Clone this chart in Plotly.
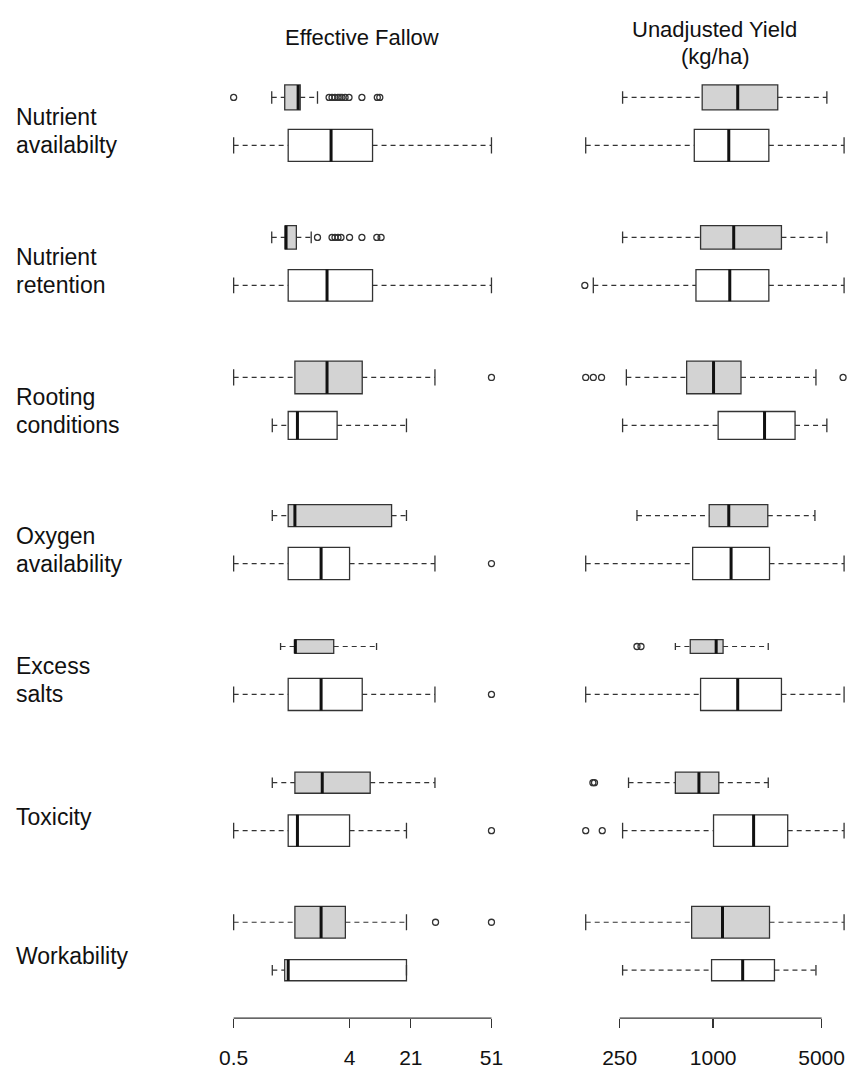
import plotly.graph_objects as go

# ---------------- data ----------------
categories = ["Nutrient<br>availabilty", "Nutrient<br>retention", "Rooting<br>conditions",
              "Oxygen<br>availability", "Excess<br>salts", "Toxicity", "Workability"]

# five-number summaries: [lower whisker, Q1, median, Q3, upper whisker]
fallow_gray = [
    [0.99, 1.25, 1.59, 1.65, 2.25],
    [0.99, 1.26, 1.28, 1.54, 2.01],
    [0.5, 1.50, 2.67, 5.02, 18.5],
    [1.0, 1.33, 1.50, 8.5, 11.1],
    [1.16, 1.50, 1.51, 3.01, 6.49],
    [1.0, 1.50, 2.45, 5.79, 18.5],
    [0.5, 1.50, 2.40, 3.71, 11.1],
]
fallow_gray_out = [
    [0.5, 2.77, 2.92, 3.08, 3.25, 3.37, 3.49, 3.69, 3.96, 4.99, 6.58, 6.88],
    [2.25, 2.92, 3.08, 3.25, 3.43, 4.0, 4.99, 6.52, 7.04],
    [51],
    [],
    [],
    [],
    [18.7, 51],
]
fallow_white = [
    [0.5, 1.33, 2.87, 6.04, 51],
    [0.5, 1.33, 2.67, 6.04, 51],
    [1.0, 1.33, 1.57, 3.2, 11.1],
    [0.5, 1.33, 2.40, 4.0, 18.5],
    [0.5, 1.33, 2.40, 5.02, 18.5],
    [0.5, 1.33, 1.57, 4.0, 11.1],
    [1.0, 1.25, 1.33, 11.1, 11.1],
]
fallow_white_out = [[], [], [], [51], [51], [51], []]

yield_gray = [
    [261, 850, 1440, 2608, 5404],
    [261, 830, 1357, 2755, 5404],
    [276, 675, 1006, 1512, 4597],
    [323, 943, 1261, 2250, 4527],
    [571, 712, 1046, 1159, 2265],
    [285, 571, 810, 1088, 2265],
    [151, 727, 1149, 2308, 6978],
]
yield_gray_out = [[], [], [151, 169, 191, 6873], [], [323, 343], [168, 172], []]
yield_white = [
    [151, 756, 1261, 2285, 6978],
    [169, 775, 1280, 2285, 6978],
    [261, 1077, 2144, 3372, 5404],
    [151, 738, 1305, 2308, 6978],
    [151, 830, 1440, 2755, 6978],
    [261, 1006, 1823, 3023, 6978],
    [261, 977, 1550, 2484, 4597],
]
yield_white_out = [[], [149], [], [], [], [151, 193], []]

# relative box widths (varwidth, proportional to sqrt(n))
width_gray = [0.52, 0.49, 0.68, 0.46, 0.29, 0.44, 0.66]
width_white = [0.67, 0.66, 0.58, 0.67, 0.67, 0.66, 0.44]

fallow_ticks = [0.5, 4, 12, 51]
fallow_tick_labels = ["0.5", "4", "21", "51"]
yield_ticks = [250, 1000, 5000]
yield_tick_labels = ["250", "1000", "5000"]

# ---------------- layout parameters ----------------
W, H = 857, 1069
SLOT = 48.0                      # px per box slot
group_pos = [0, 2.92, 5.84, 8.72, 11.45, 14.29, 17.2]   # position of upper (gray) box
EDGE = "#333333"
FONT = "Liberation Sans, Arial, Helvetica, sans-serif"

fig = go.Figure()


def add_box(stats, outs, pos, w, fill, xa):
    lw, q1, med, q3, uw = stats
    fig.add_trace(go.Box(orientation="h", y=[pos], q1=[q1], median=[med], q3=[q3],
                         lowerfence=[q1], upperfence=[q3], width=w, fillcolor=fill,
                         line=dict(color=EDGE, width=1.3), whiskerwidth=0, boxpoints=False,
                         xaxis=xa, yaxis="y", hoverinfo="skip", showlegend=False))
    # dashed whiskers
    fig.add_trace(go.Scatter(x=[lw, q1, None, q3, uw], y=[pos, pos, None, pos, pos],
                             mode="lines", line=dict(color=EDGE, width=1.2, dash="5px,4px"),
                             xaxis=xa, yaxis="y", hoverinfo="skip", showlegend=False))
    # staples
    fig.add_trace(go.Scatter(x=[lw, lw, None, uw, uw],
                             y=[pos - w / 4, pos + w / 4, None, pos - w / 4, pos + w / 4],
                             mode="lines", line=dict(color=EDGE, width=1.3),
                             xaxis=xa, yaxis="y", hoverinfo="skip", showlegend=False))
    # thick median
    fig.add_trace(go.Scatter(x=[med, med], y=[pos - w / 2, pos + w / 2], mode="lines",
                             line=dict(color="#111111", width=3),
                             xaxis=xa, yaxis="y", hoverinfo="skip", showlegend=False))
    if outs:
        fig.add_trace(go.Scatter(x=outs, y=[pos] * len(outs), mode="markers",
                                 marker=dict(symbol="circle-open", size=6, color=EDGE,
                                             line=dict(width=1.3, color=EDGE)),
                                 xaxis=xa, yaxis="y", hoverinfo="skip", showlegend=False))


for i in range(len(categories)):
    pg = group_pos[i]
    pw = group_pos[i] + 1
    add_box(fallow_gray[i], fallow_gray_out[i], pg, width_gray[i], "#d3d3d3", "x")
    add_box(fallow_white[i], fallow_white_out[i], pw, width_white[i], "white", "x")
    add_box(yield_gray[i], yield_gray_out[i], pg, width_gray[i], "#d3d3d3", "x2")
    add_box(yield_white[i], yield_white_out[i], pw, width_white[i], "white", "x2")

# category labels (line by line)
annotations = []
LINE = 28.0 / SLOT
for i, cat in enumerate(categories):
    lines = cat.split("<br>")
    center = group_pos[i] + 1 - 14.0 / SLOT
    n = len(lines)
    for k, txt in enumerate(lines):
        annotations.append(dict(text=txt, xref="paper", yref="y", x=10 / W,
                                y=center + (k - (n - 1) / 2) * LINE,
                                xanchor="left", yanchor="middle", showarrow=False,
                                font=dict(family=FONT, size=23, color="#111111")))

# panel titles
annotations.append(dict(text="Effective Fallow", xref="x domain", yref="paper", x=0.5,
                        y=1 - 38 / H, xanchor="center", yanchor="middle", showarrow=False,
                        font=dict(family=FONT, size=22, color="#111111")))
annotations.append(dict(text="Unadjusted Yield", xref="x2 domain", yref="paper", x=0.5,
                        y=1 - 30 / H, xanchor="center", yanchor="middle", showarrow=False,
                        font=dict(family=FONT, size=22, color="#111111")))
annotations.append(dict(text="(kg/ha)", xref="x2 domain", yref="paper", x=0.5,
                        y=1 - 57 / H, xanchor="center", yanchor="middle", showarrow=False,
                        font=dict(family=FONT, size=22, color="#111111")))

# axis lines spanning first..last tick only
shapes = [
    dict(type="line", xref="x", yref="y domain", x0=fallow_ticks[0], x1=fallow_ticks[-1],
         y0=0, y1=0, line=dict(color=EDGE, width=1.3)),
    dict(type="line", xref="x2", yref="y domain", x0=yield_ticks[0], x1=yield_ticks[-1],
         y0=0, y1=0, line=dict(color=EDGE, width=1.3)),
]

top_px, bottom_px = 60.0, 1019.0
y0_px = 97.5
axis_common = dict(ticks="outside", ticklen=9, tickwidth=1.3, tickcolor=EDGE,
                   showgrid=False, zeroline=False, showline=False, anchor="y",
                   tickfont=dict(family=FONT, size=21, color="#111111"),
                   ticklabelstandoff=12)

fig.update_layout(
    width=W, height=H, margin=dict(l=0, r=0, t=0, b=0),
    plot_bgcolor="white", paper_bgcolor="white", showlegend=False,
    xaxis=dict(domain=[220 / W, 501 / W], type="log", range=[-0.3862, 1.7902],
               tickvals=fallow_ticks, ticktext=fallow_tick_labels, **axis_common),
    xaxis2=dict(domain=[574 / W, 856 / W], type="log", range=[2.1077, 3.9141],
                tickvals=yield_ticks, ticktext=yield_tick_labels, **axis_common),
    yaxis=dict(domain=[(H - bottom_px) / H, (H - top_px) / H],
               range=[(bottom_px - y0_px) / SLOT, (top_px - y0_px) / SLOT],
               visible=False),
    annotations=annotations, shapes=shapes,
)

fig.write_html("out.html",
               config={"displayModeBar": False, "staticPlot": True},
               post_script="document.body.style.margin='0';document.body.style.padding='0';"
                           "document.body.style.overflow='hidden';")
